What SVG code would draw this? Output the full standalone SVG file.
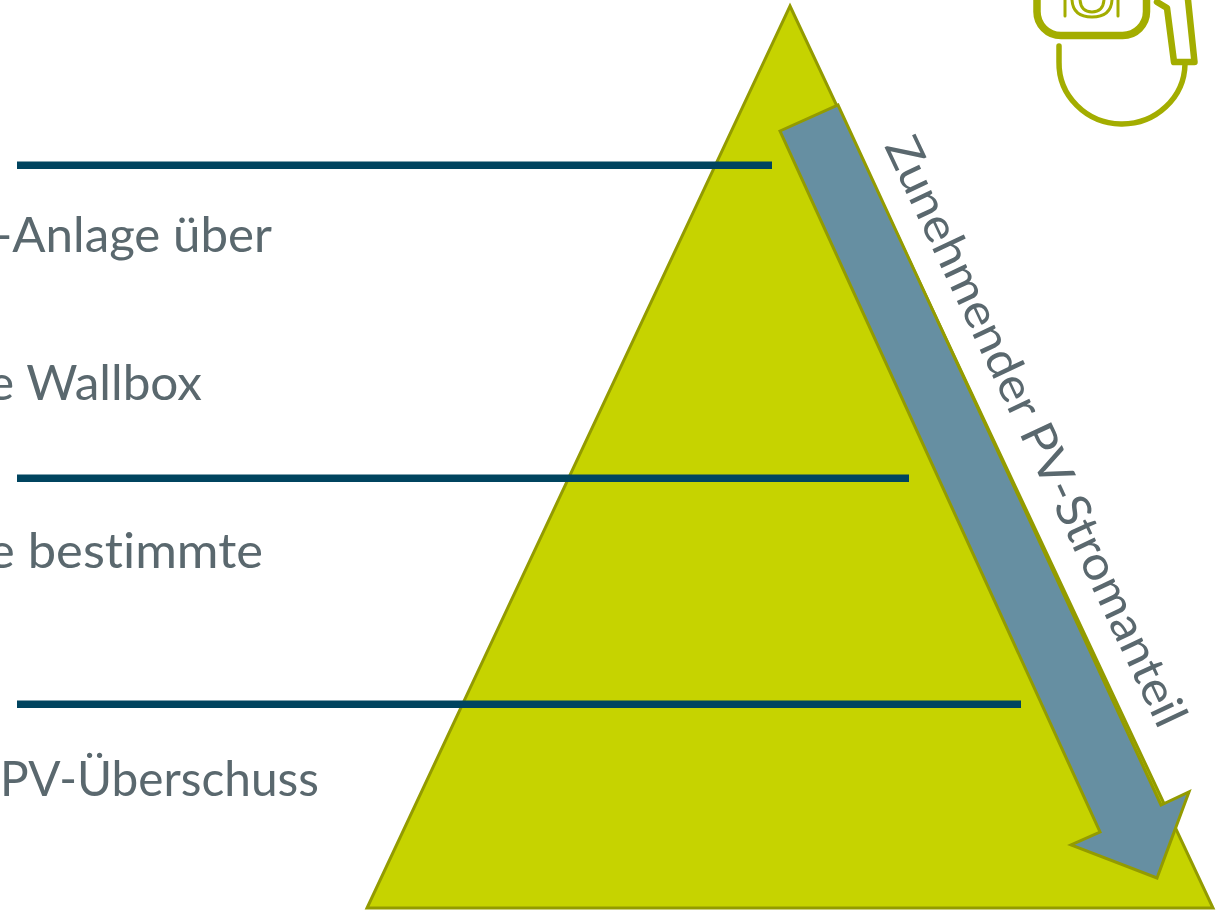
<svg xmlns="http://www.w3.org/2000/svg" width="1225" height="910" viewBox="0 0 1225 910">
<style>
.t{font-family:"Lato","Open Sans",sans-serif;font-size:49px;fill:#5a686e;font-variant-ligatures:none}
.l{fill:#00445f}
.ic{fill:none;stroke:#a3ad00;stroke-linecap:round;stroke-linejoin:round}
</style>
<rect width="1225" height="910" fill="#fff"/>
<g id="pyramid"><polygon points="790,6 1213,908 367,908" fill="#c6d300" stroke="#939b00" stroke-width="3"/></g>
<g id="icon">
<path class="ic" stroke-width="7.500" d="M1037,0V11A24,24 0 0 0 1061,35.500H1122A24,24 0 0 0 1146.500,11V0"/>
<path class="ic" stroke-width="3" d="M1065,0V16M1118,0V16"/>
<path class="ic" stroke-width="3" d="M1072,0Q1073,17 1092,17Q1111,17 1112,0"/>
<path class="ic" stroke-width="3" d="M1080,0Q1081,12 1092,12Q1103,12 1104,0"/>
<path class="ic" stroke-width="6.500" d="M1157,2L1167,8L1174,62H1194.500L1188,0"/>
<path class="ic" stroke-width="5.500" d="M1059,46V62A63,61 0 0 0 1185,64"/>
</g>
<g id="connectors">
<rect class="l" x="17" y="161.500" width="755" height="7.500"/>
<rect class="l" x="17" y="474.500" width="892" height="7.500"/>
<rect class="l" x="17" y="700.500" width="1004" height="7.500"/>
</g>
<g id="arrow">
<polygon points="780,131 838,105 1161,805 1189,792 1157,878 1071,845 1100,832" fill="#668fa2" stroke="#939b00" stroke-width="3"/></g>
<g id="labels">
<text class="t" x="-6" y="252" textLength="278" lengthAdjust="spacingAndGlyphs">-Anlage über</text>
<text class="t" x="-12" y="400" textLength="214" lengthAdjust="spacingAndGlyphs">e Wallbox</text>
<text class="t" x="-12" y="568" textLength="275" lengthAdjust="spacingAndGlyphs">e bestimmte</text>
<text class="t" x="0" y="796" textLength="319" lengthAdjust="spacingAndGlyphs">PV-Überschuss</text>
<text class="t" transform="translate(884,146) rotate(64.8)" textLength="646" lengthAdjust="spacingAndGlyphs" style="font-size:47px">Zunehmender PV-Stromanteil</text>
</g>
</svg>
